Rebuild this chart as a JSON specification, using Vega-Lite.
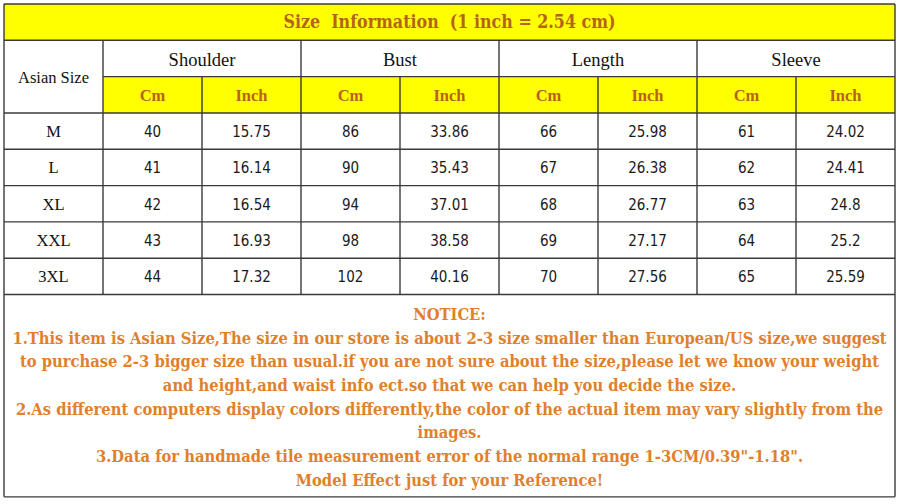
{
  "$schema": "https://vega.github.io/schema/vega-lite/v6.json",
  "width": 900,
  "height": 504,
  "autosize": {"type": "fit", "contains": "padding"},
  "padding": 0,
  "background": "white",
  "config": {"view": {"stroke": null}},
  "datasets": {
    "fills": [
      {"x": 0, "x2": 9, "y": 0, "y2": 1},
      {"x": 1, "x2": 9, "y": 2, "y2": 3}
    ],
    "lines": [
      {"x": 0, "x2": 9, "y": 0, "y2": 0},
      {"x": 0, "x2": 9, "y": 1, "y2": 1},
      {"x": 1, "x2": 9, "y": 2, "y2": 2},
      {"x": 0, "x2": 9, "y": 3, "y2": 3},
      {"x": 0, "x2": 9, "y": 4, "y2": 4},
      {"x": 0, "x2": 9, "y": 5, "y2": 5},
      {"x": 0, "x2": 9, "y": 6, "y2": 6},
      {"x": 0, "x2": 9, "y": 7, "y2": 7},
      {"x": 0, "x2": 9, "y": 8, "y2": 8},
      {"x": 0, "x2": 9, "y": 13.57, "y2": 13.57},
      {"x": 0, "x2": 0, "y": 0, "y2": 13.57},
      {"x": 9, "x2": 9, "y": 0, "y2": 13.57},
      {"x": 1, "x2": 1, "y": 1, "y2": 8},
      {"x": 3, "x2": 3, "y": 1, "y2": 8},
      {"x": 5, "x2": 5, "y": 1, "y2": 8},
      {"x": 7, "x2": 7, "y": 1, "y2": 8},
      {"x": 2, "x2": 2, "y": 2, "y2": 8},
      {"x": 4, "x2": 4, "y": 2, "y2": 8},
      {"x": 6, "x2": 6, "y": 2, "y2": 8},
      {"x": 8, "x2": 8, "y": 2, "y2": 8}
    ],
    "labels": [
      {"kind": "title", "x": 4.5, "y": 0.5, "text": "Size\u00a0 Information\u00a0 (1 inch = 2.54 cm)"},
      {"kind": "head", "x": 0.5, "y": 2, "text": "Asian Size"},
      {"kind": "group", "x": 2, "y": 1.5, "text": "Shoulder"},
      {"kind": "group", "x": 4, "y": 1.5, "text": "Bust"},
      {"kind": "group", "x": 6, "y": 1.5, "text": "Length"},
      {"kind": "group", "x": 8, "y": 1.5, "text": "Sleeve"},
      {"kind": "unit", "x": 1.5, "y": 2.5, "text": "Cm"},
      {"kind": "unit", "x": 2.5, "y": 2.5, "text": "Inch"},
      {"kind": "unit", "x": 3.5, "y": 2.5, "text": "Cm"},
      {"kind": "unit", "x": 4.5, "y": 2.5, "text": "Inch"},
      {"kind": "unit", "x": 5.5, "y": 2.5, "text": "Cm"},
      {"kind": "unit", "x": 6.5, "y": 2.5, "text": "Inch"},
      {"kind": "unit", "x": 7.5, "y": 2.5, "text": "Cm"},
      {"kind": "unit", "x": 8.5, "y": 2.5, "text": "Inch"},
      {"kind": "head", "x": 0.5, "y": 3.5, "text": "M"},
      {"kind": "head", "x": 0.5, "y": 4.5, "text": "L"},
      {"kind": "head", "x": 0.5, "y": 5.5, "text": "XL"},
      {"kind": "head", "x": 0.5, "y": 6.5, "text": "XXL"},
      {"kind": "head", "x": 0.5, "y": 7.5, "text": "3XL"},
      {"kind": "value", "x": 1.5, "y": 3.5, "text": "40"},
      {"kind": "value", "x": 2.5, "y": 3.5, "text": "15.75"},
      {"kind": "value", "x": 3.5, "y": 3.5, "text": "86"},
      {"kind": "value", "x": 4.5, "y": 3.5, "text": "33.86"},
      {"kind": "value", "x": 5.5, "y": 3.5, "text": "66"},
      {"kind": "value", "x": 6.5, "y": 3.5, "text": "25.98"},
      {"kind": "value", "x": 7.5, "y": 3.5, "text": "61"},
      {"kind": "value", "x": 8.5, "y": 3.5, "text": "24.02"},
      {"kind": "value", "x": 1.5, "y": 4.5, "text": "41"},
      {"kind": "value", "x": 2.5, "y": 4.5, "text": "16.14"},
      {"kind": "value", "x": 3.5, "y": 4.5, "text": "90"},
      {"kind": "value", "x": 4.5, "y": 4.5, "text": "35.43"},
      {"kind": "value", "x": 5.5, "y": 4.5, "text": "67"},
      {"kind": "value", "x": 6.5, "y": 4.5, "text": "26.38"},
      {"kind": "value", "x": 7.5, "y": 4.5, "text": "62"},
      {"kind": "value", "x": 8.5, "y": 4.5, "text": "24.41"},
      {"kind": "value", "x": 1.5, "y": 5.5, "text": "42"},
      {"kind": "value", "x": 2.5, "y": 5.5, "text": "16.54"},
      {"kind": "value", "x": 3.5, "y": 5.5, "text": "94"},
      {"kind": "value", "x": 4.5, "y": 5.5, "text": "37.01"},
      {"kind": "value", "x": 5.5, "y": 5.5, "text": "68"},
      {"kind": "value", "x": 6.5, "y": 5.5, "text": "26.77"},
      {"kind": "value", "x": 7.5, "y": 5.5, "text": "63"},
      {"kind": "value", "x": 8.5, "y": 5.5, "text": "24.8"},
      {"kind": "value", "x": 1.5, "y": 6.5, "text": "43"},
      {"kind": "value", "x": 2.5, "y": 6.5, "text": "16.93"},
      {"kind": "value", "x": 3.5, "y": 6.5, "text": "98"},
      {"kind": "value", "x": 4.5, "y": 6.5, "text": "38.58"},
      {"kind": "value", "x": 5.5, "y": 6.5, "text": "69"},
      {"kind": "value", "x": 6.5, "y": 6.5, "text": "27.17"},
      {"kind": "value", "x": 7.5, "y": 6.5, "text": "64"},
      {"kind": "value", "x": 8.5, "y": 6.5, "text": "25.2"},
      {"kind": "value", "x": 1.5, "y": 7.5, "text": "44"},
      {"kind": "value", "x": 2.5, "y": 7.5, "text": "17.32"},
      {"kind": "value", "x": 3.5, "y": 7.5, "text": "102"},
      {"kind": "value", "x": 4.5, "y": 7.5, "text": "40.16"},
      {"kind": "value", "x": 5.5, "y": 7.5, "text": "70"},
      {"kind": "value", "x": 6.5, "y": 7.5, "text": "27.56"},
      {"kind": "value", "x": 7.5, "y": 7.5, "text": "65"},
      {"kind": "value", "x": 8.5, "y": 7.5, "text": "25.59"}
    ],
    "notice": [
      {"line": 0, "text": "NOTICE:"},
      {"line": 1, "text": "1.This item is Asian Size,The size in our store is about 2-3 size smaller than European/US size,we suggest"},
      {"line": 2, "text": "to purchase 2-3 bigger size than usual.if you are not sure about the size,please let we know your weight"},
      {"line": 3, "text": "and height,and waist info ect.so that we can help you decide the size."},
      {"line": 4, "text": "2.As different computers display colors differently,the color of the actual item may vary slightly from the"},
      {"line": 5, "text": "images."},
      {"line": 6, "text": "3.Data for handmade tile measurement error of the normal range 1-3CM/0.39\"-1.18\"."},
      {"line": 7, "text": "Model Effect just for your Reference!"}
    ]
  },
  "layer": [
    {
      "encoding": {
        "x": {"field": "x", "type": "quantitative", "scale": {"domain": [-0.0404, 9.0505], "nice": false, "zero": false}, "axis": null},
        "y": {"field": "y", "type": "quantitative", "scale": {"domain": [-0.1101, 13.7665], "nice": false, "zero": false, "reverse": true}, "axis": null}
      },
      "layer": [
        {
          "data": {"name": "fills"},
          "mark": {"type": "rect", "color": "#ffff00"},
          "encoding": {"x2": {"field": "x2"}, "y2": {"field": "y2"}}
        },
        {
          "data": {"name": "lines"},
          "mark": {"type": "rule", "color": "#3a3a3a", "strokeWidth": 1.4},
          "encoding": {"x2": {"field": "x2"}, "y2": {"field": "y2"}}
        },
        {
          "data": {"name": "labels"},
          "transform": [{"filter": "datum.kind === 'title'"}],
          "mark": {"type": "text", "font": "DejaVu Serif Condensed, DejaVu Serif, serif", "fontSize": 17.7, "fontWeight": "bold", "color": "#b5631b", "baseline": "middle", "align": "center", "dy": 1},
          "encoding": {"text": {"field": "text"}}
        },
        {
          "data": {"name": "labels"},
          "transform": [{"filter": "datum.kind === 'group'"}],
          "mark": {"type": "text", "font": "Liberation Serif", "fontSize": 18.5, "color": "#111111", "baseline": "middle", "align": "center", "dy": 2},
          "encoding": {"text": {"field": "text"}}
        },
        {
          "data": {"name": "labels"},
          "transform": [{"filter": "datum.kind === 'head'"}],
          "mark": {"type": "text", "font": "Liberation Serif", "fontSize": 16.5, "color": "#111111", "baseline": "middle", "align": "center", "dy": 1},
          "encoding": {"text": {"field": "text"}}
        },
        {
          "data": {"name": "labels"},
          "transform": [{"filter": "datum.kind === 'unit'"}],
          "mark": {"type": "text", "font": "Liberation Serif", "fontSize": 16.5, "fontWeight": "bold", "color": "#b5631b", "baseline": "middle", "align": "center", "dy": 1},
          "encoding": {"text": {"field": "text"}}
        },
        {
          "data": {"name": "labels"},
          "transform": [{"filter": "datum.kind === 'value'"}],
          "mark": {"type": "text", "font": "DejaVu Sans Condensed, Tahoma, sans-serif", "fontSize": 15, "color": "#1a1a1a", "baseline": "middle", "align": "center", "dy": 1},
          "encoding": {"text": {"field": "text"}}
        }
      ]
    },
    {
      "data": {"name": "notice"},
      "mark": {"type": "text", "font": "DejaVu Serif Condensed, DejaVu Serif, serif", "fontSize": 16.4, "fontWeight": "bold", "color": "#e0802c", "baseline": "middle", "align": "center"},
      "encoding": {
        "x": {"datum": 4.5, "type": "quantitative"},
        "y": {"field": "line", "type": "quantitative", "scale": {"domain": [-13.31, 7.985], "nice": false, "zero": false, "reverse": true}, "axis": null},
        "text": {"field": "text"}
      }
    }
  ],
  "resolve": {"scale": {"y": "independent"}}
}
